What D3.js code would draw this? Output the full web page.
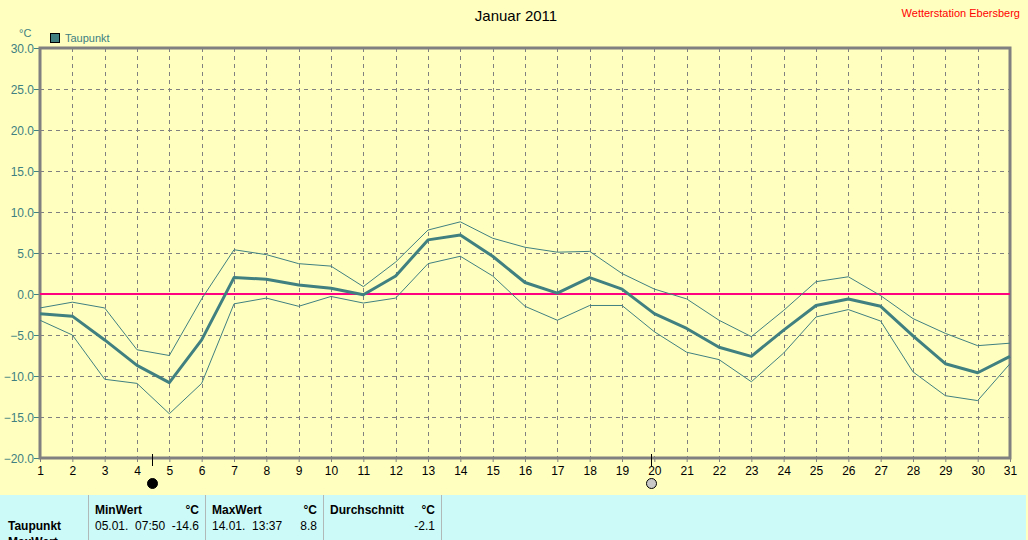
<!DOCTYPE html>
<html>
<head>
<meta charset="utf-8">
<script src="https://cdn.jsdelivr.net/npm/d3@7"></script>
<style>
body { margin: 0; background: #FFFFC0; }
svg { display: block; font-family: "Liberation Sans", Arial, sans-serif; }
</style>
</head>
<body>
<svg id="chart" width="1028" height="540"></svg>
<script>
// Tageswerte Taupunkt Januar 2011
const days = d3.range(1, 32);
const taupunktMax = [-1.7, -1.0, -1.7, -6.8, -7.5, -0.6, 5.4, 4.8, 3.7, 3.4, 0.9, 3.9, 7.8, 8.8, 6.8, 5.7, 5.1, 5.2, 2.5, 0.6, -0.6, -3.2, -5.2, -2.0, 1.5, 2.1, -0.2, -3.0, -4.8, -6.3, -6.0];
const taupunktMittel = [-2.4, -2.7, -5.6, -8.7, -10.8, -5.6, 2.0, 1.8, 1.1, 0.7, -0.1, 2.2, 6.6, 7.2, 4.6, 1.4, 0.1, 2.0, 0.6, -2.4, -4.2, -6.5, -7.6, -4.4, -1.4, -0.6, -1.5, -5.1, -8.5, -9.6, -7.6];
const taupunktMin = [-3.2, -5.0, -10.4, -10.9, -14.6, -10.9, -1.2, -0.5, -1.5, -0.3, -1.1, -0.5, 3.7, 4.6, 2.2, -1.5, -3.2, -1.4, -1.4, -4.6, -7.1, -8.0, -10.7, -7.2, -2.8, -1.9, -3.3, -9.5, -12.4, -13.0, -8.5];
const yTicks = [-20, -15, -10, -5, 0, 5, 10, 15, 20, 25, 30];
// Mondphasen (Tag mit Bruchteil)
const moonDays = [4.45, 19.9];
const moonTypes = ['neu', 'voll'];
// Statistik-Tabelle
const tableHeaders = ['MinWert', 'MaxWert', 'Durchschnitt'];
const tableDates = ['05.01.  07:50', '14.01.  13:37', ''];
const tableValues = ['-14.6', '8.8', '-2.1'];

const teal = '#408080';
const svg = d3.select('#chart');

const x = d3.scaleLinear().domain([1, 31]).range([40, 1010]);
const y = d3.scaleLinear().domain([-20, 30]).range([458, 48]);

svg.append('rect').attr('width', 1028).attr('height', 540).attr('fill', '#FFFFC0');

// Gitter
const grid = svg.append('g').attr('stroke', '#808080').attr('stroke-dasharray', '4,4').attr('stroke-width', 1);
grid.selectAll('line.h').data(yTicks.slice(1, -1)).enter().append('line')
    .attr('x1', x(1)).attr('x2', x(31))
    .attr('y1', d => y(d) + 0.5).attr('y2', d => y(d) + 0.5);
grid.selectAll('line.v').data(days.slice(1, -1)).enter().append('line')
    .attr('x1', d => Math.round(x(d)) + 0.5).attr('x2', d => Math.round(x(d)) + 0.5)
    .attr('y1', y(30)).attr('y2', y(-20));

// Achsen
const yAxis = d3.axisLeft(y).tickValues(yTicks).tickSize(6).tickFormat(d3.format('.1f'));
const gy = svg.append('g').attr('transform', `translate(${x(1)},0)`).call(yAxis);
gy.select('.domain').remove();
gy.selectAll('line').attr('stroke', teal);
gy.selectAll('text').attr('fill', teal).attr('font-size', 12).attr('x', -6).attr('dy', '0.35em');

const xAxis = d3.axisBottom(x).tickValues(days).tickSize(4).tickFormat(d3.format('d'));
const gx = svg.append('g').attr('transform', `translate(0,${y(-20)})`).call(xAxis);
gx.select('.domain').remove();
gx.selectAll('line').attr('stroke', '#808080');
gx.selectAll('text').attr('fill', '#000').attr('font-size', 12).attr('y', 8).attr('dy', '0.71em');

// Rahmen
svg.append('rect')
    .attr('x', x(1)).attr('y', y(30))
    .attr('width', x(31) - x(1)).attr('height', y(-20) - y(30))
    .attr('fill', 'none').attr('stroke', '#808080').attr('stroke-width', 3);

// Nulllinie
svg.append('line')
    .attr('x1', x(1)).attr('x2', x(31))
    .attr('y1', y(0)).attr('y2', y(0))
    .attr('stroke', '#FF0080').attr('stroke-width', 2);

// Linien
const line = d3.line().x((d, i) => x(days[i])).y(d => y(d));
[[taupunktMax, 1], [taupunktMin, 1], [taupunktMittel, 3]].forEach(([data, w]) => {
    svg.append('path').datum(data)
        .attr('d', line)
        .attr('fill', 'none')
        .attr('stroke', teal)
        .attr('stroke-width', w)
        .attr('stroke-linejoin', 'round');
});

// Mondphasen
const moons = svg.append('g').selectAll('g').data(moonDays).enter().append('g');
moons.append('line')
    .attr('x1', d => Math.round(x(d)) + 0.5).attr('x2', d => Math.round(x(d)) + 0.5)
    .attr('y1', y(-20) - 4).attr('y2', y(-20) + 8)
    .attr('stroke', '#000');
moons.append('circle')
    .attr('cx', d => Math.round(x(d)) + 0.5).attr('cy', 483.5).attr('r', 5)
    .attr('fill', (d, i) => moonTypes[i] === 'neu' ? '#000' : '#C8C8C8')
    .attr('stroke', '#000').attr('stroke-width', 1);

// Titel
svg.append('text').attr('x', 516).attr('y', 21).attr('text-anchor', 'middle')
    .attr('font-size', 15).attr('fill', '#000').text('Januar 2011');
svg.append('text').attr('x', 1020).attr('y', 17).attr('text-anchor', 'end')
    .attr('font-size', 11).attr('fill', '#FF0000').text('Wetterstation Ebersberg');
svg.append('text').attr('x', 19).attr('y', 37)
    .attr('font-size', 11).attr('fill', teal).text('°C');

// Legende
svg.append('rect').attr('x', 50.5).attr('y', 33.5).attr('width', 9).attr('height', 9)
    .attr('fill', teal).attr('stroke', '#000');
svg.append('text').attr('x', 65).attr('y', 42)
    .attr('font-size', 11).attr('fill', teal).text('Taupunkt');

// Tabelle
const tbl = svg.append('g');
tbl.append('rect').attr('x', 0).attr('y', 495).attr('width', 1026).attr('height', 45).attr('fill', '#CCFAF8');
const colX = [88, 205, 323, 441];
tbl.selectAll('line.sep').data(colX).enter().append('line')
    .attr('x1', d => d + 0.5).attr('x2', d => d + 0.5)
    .attr('y1', 495).attr('y2', 540)
    .attr('stroke', '#B0B8B8').attr('stroke-width', 1);
tbl.append('text').attr('x', 8).attr('y', 530).attr('font-size', 12).attr('font-weight', 'bold').text('Taupunkt');
tbl.append('text').attr('x', 8).attr('y', 546).attr('font-size', 12).attr('font-weight', 'bold').text('MaxWert');
tableHeaders.forEach((h, i) => {
    tbl.append('text').attr('x', colX[i] + 7).attr('y', 514)
        .attr('font-size', 12).attr('font-weight', 'bold').text(h);
    tbl.append('text').attr('x', colX[i + 1] - 6).attr('y', 514).attr('text-anchor', 'end')
        .attr('font-size', 12).attr('font-weight', 'bold').text('°C');
    tbl.append('text').attr('x', colX[i] + 7).attr('y', 530)
        .attr('font-size', 12).style('white-space', 'pre').text(tableDates[i]);
    tbl.append('text').attr('x', colX[i + 1] - 6).attr('y', 530).attr('text-anchor', 'end')
        .attr('font-size', 12).text(tableValues[i]);
});
</script>
</body>
</html>
